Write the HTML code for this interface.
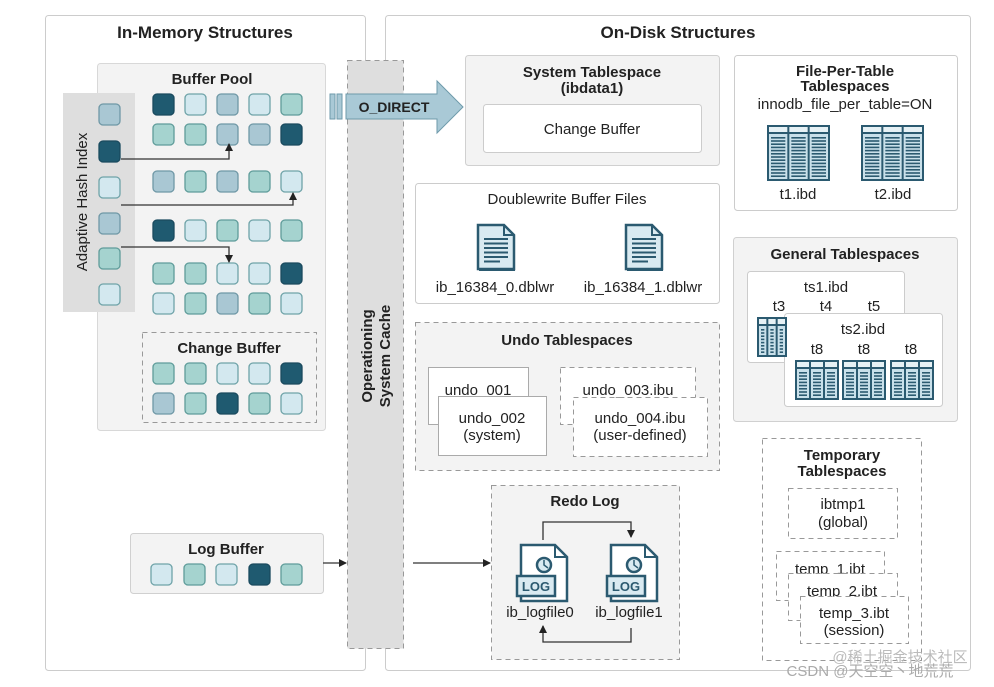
<!DOCTYPE html>
<html><head><meta charset="utf-8"><style>
html,body{margin:0;padding:0;background:#fff;}
svg{display:block;}
text{font-family:"Liberation Sans","Noto Sans CJK SC",sans-serif;fill:#222;}
.b{font-weight:bold;}
</style></head><body>
<svg id="s" width="994" height="687" viewBox="0 0 994 687" xmlns="http://www.w3.org/2000/svg">
<defs>
<marker id="ah" markerWidth="8" markerHeight="8" refX="7" refY="4" orient="auto" markerUnits="userSpaceOnUse"><path d="M0,0 L8,4 L0,8 Z" fill="#222"/></marker>
</defs>
<!-- panels -->
<rect x="45.5" y="15.5" width="320" height="655" rx="3" fill="#fff" stroke="#ccc"/>
<rect x="385.5" y="15.5" width="585" height="655" rx="3" fill="#fff" stroke="#ccc"/>
<text x="205" y="38" text-anchor="middle" font-size="17" class="b">In-Memory Structures</text>
<text x="678" y="38" text-anchor="middle" font-size="17" class="b">On-Disk Structures</text>

<!-- buffer pool -->
<rect x="97.5" y="63.5" width="228" height="367" rx="3" fill="#f3f3f3" stroke="#d8d8d8"/>
<text x="212" y="84" text-anchor="middle" font-size="15" class="b">Buffer Pool</text>
<rect x="63" y="93" width="72" height="219" fill="#dedede"/>
<text transform="translate(87,202) rotate(-90)" text-anchor="middle" font-size="15">Adaptive Hash Index</text>
<rect x="142.5" y="332.5" width="174" height="90" fill="none" stroke="#999" stroke-dasharray="5,4"/>
<text x="229" y="353" text-anchor="middle" font-size="15" class="b">Change Buffer</text>

<!-- log buffer -->
<rect x="130.5" y="533.5" width="193" height="60" rx="3" fill="#f3f3f3" stroke="#d0d0d0"/>
<text x="226" y="554" text-anchor="middle" font-size="15" class="b">Log Buffer</text>

<!-- OS cache -->
<rect x="347.5" y="60.5" width="56" height="588" fill="#dedede" stroke="#999" stroke-dasharray="5,4"/>
<text transform="translate(372,356) rotate(-90)" text-anchor="middle" font-size="15" class="b">Operationing</text>
<text transform="translate(390,356) rotate(-90)" text-anchor="middle" font-size="15" class="b">System Cache</text>

<!-- O_DIRECT arrow -->
<rect x="330" y="94" width="5" height="25" fill="#a9c9d6" stroke="#6e9aab"/>
<rect x="337" y="94" width="5" height="25" fill="#a9c9d6" stroke="#6e9aab"/>
<path d="M346,94 L437,94 L437,81 L463,107 L437,133 L437,119 L346,119 Z" fill="#a9c9d6" stroke="#6e9aab"/>
<text x="394" y="112" text-anchor="middle" font-size="14" class="b" fill="#222">O_DIRECT</text>

<!-- log arrows -->
<line x1="323" y1="563" x2="346" y2="563" stroke="#333" stroke-width="1.3" marker-end="url(#ah)"/>
<line x1="413" y1="563" x2="490" y2="563" stroke="#333" stroke-width="1.3" marker-end="url(#ah)"/>

<!-- system tablespace -->
<rect x="465.5" y="55.5" width="254" height="110" rx="3" fill="#f3f3f3" stroke="#d0d0d0"/>
<text x="592" y="77" text-anchor="middle" font-size="15" class="b">System Tablespace</text>
<text x="592" y="93" text-anchor="middle" font-size="15" class="b">(ibdata1)</text>
<rect x="483.5" y="104.5" width="218" height="48" rx="3" fill="#fff" stroke="#ccc"/>
<text x="592" y="134" text-anchor="middle" font-size="15">Change Buffer</text>

<!-- doublewrite -->
<rect x="415.5" y="183.5" width="304" height="120" rx="3" fill="#fff" stroke="#ccc"/>
<text x="567" y="204" text-anchor="middle" font-size="15">Doublewrite Buffer Files</text>
<text x="495" y="292" text-anchor="middle" font-size="15">ib_16384_0.dblwr</text>
<text x="643" y="292" text-anchor="middle" font-size="15">ib_16384_1.dblwr</text>

<!-- undo -->
<rect x="415.5" y="322.5" width="304" height="148" fill="#f3f3f3" stroke="#999" stroke-dasharray="5,4"/>
<text x="567" y="345" text-anchor="middle" font-size="15" class="b">Undo Tablespaces</text>
<rect x="428.5" y="367.5" width="100" height="57" fill="#fff" stroke="#aaa"/>
<text x="478" y="395" text-anchor="middle" font-size="15">undo_001</text>
<rect x="438.5" y="396.5" width="108" height="59" fill="#fff" stroke="#aaa"/>
<text x="492" y="423" text-anchor="middle" font-size="15">undo_002</text>
<text x="492" y="440" text-anchor="middle" font-size="15">(system)</text>
<rect x="560.5" y="367.5" width="135" height="57" fill="#fff" stroke="#999" stroke-dasharray="5,4"/>
<text x="628" y="395" text-anchor="middle" font-size="15">undo_003.ibu</text>
<rect x="573.5" y="397.5" width="134" height="59" fill="#fff" stroke="#999" stroke-dasharray="5,4"/>
<text x="640" y="423" text-anchor="middle" font-size="15">undo_004.ibu</text>
<text x="640" y="440" text-anchor="middle" font-size="15">(user-defined)</text>

<!-- redo -->
<rect x="491.5" y="485.5" width="188" height="174" fill="#f3f3f3" stroke="#999" stroke-dasharray="5,4"/>
<text x="585" y="506" text-anchor="middle" font-size="15" class="b">Redo Log</text>
<path d="M543,540 L543,522 L631,522 L631,537" fill="none" stroke="#333" stroke-width="1.3" marker-end="url(#ah)"/>
<path d="M631,628 L631,642 L543,642 L543,626" fill="none" stroke="#333" stroke-width="1.3" marker-end="url(#ah)"/>
<text x="540" y="617" text-anchor="middle" font-size="15">ib_logfile0</text>
<text x="629" y="617" text-anchor="middle" font-size="15">ib_logfile1</text>

<!-- file per table -->
<rect x="734.5" y="55.5" width="223" height="155" rx="3" fill="#fff" stroke="#ccc"/>
<text x="845" y="76" text-anchor="middle" font-size="15" class="b">File-Per-Table</text>
<text x="845" y="91" text-anchor="middle" font-size="15" class="b">Tablespaces</text>
<text x="845" y="109" text-anchor="middle" font-size="15">innodb_file_per_table=ON</text>
<text x="798" y="199" text-anchor="middle" font-size="15">t1.ibd</text>
<text x="893" y="199" text-anchor="middle" font-size="15">t2.ibd</text>

<!-- general -->
<rect x="733.5" y="237.5" width="224" height="184" rx="3" fill="#f3f3f3" stroke="#d0d0d0"/>
<text x="845" y="259" text-anchor="middle" font-size="15" class="b">General Tablespaces</text>
<rect x="747.5" y="271.5" width="157" height="91" rx="3" fill="#fff" stroke="#ccc"/>
<text x="826" y="292" text-anchor="middle" font-size="15">ts1.ibd</text>
<text x="779" y="311" text-anchor="middle" font-size="15">t3</text>
<text x="826" y="311" text-anchor="middle" font-size="15">t4</text>
<text x="874" y="311" text-anchor="middle" font-size="15">t5</text>
<g id="gt"></g>
<rect x="784.5" y="313.5" width="158" height="93" rx="3" fill="#fff" stroke="#ccc"/>
<text x="863" y="334" text-anchor="middle" font-size="15">ts2.ibd</text>
<text x="817" y="354" text-anchor="middle" font-size="15">t8</text>
<text x="864" y="354" text-anchor="middle" font-size="15">t8</text>
<text x="911" y="354" text-anchor="middle" font-size="15">t8</text>

<!-- temp -->
<rect x="762.5" y="438.5" width="159" height="222" fill="#fff" stroke="#999" stroke-dasharray="5,4"/>
<text x="842" y="460" text-anchor="middle" font-size="15" class="b">Temporary</text>
<text x="842" y="476" text-anchor="middle" font-size="15" class="b">Tablespaces</text>
<rect x="788.5" y="488.5" width="109" height="50" fill="#fff" stroke="#999" stroke-dasharray="5,4"/>
<text x="843" y="509" text-anchor="middle" font-size="15">ibtmp1</text>
<text x="843" y="527" text-anchor="middle" font-size="15">(global)</text>
<rect x="776.5" y="551.5" width="108" height="49" fill="#fff" stroke="#999" stroke-dasharray="5,4"/>
<text x="830" y="574" text-anchor="middle" font-size="15">temp_1.ibt</text>
<rect x="788.5" y="573.5" width="109" height="47" fill="#fff" stroke="#999" stroke-dasharray="5,4"/>
<text x="842" y="596" text-anchor="middle" font-size="15">temp_2.ibt</text>
<rect x="800.5" y="596.5" width="108" height="47" fill="#fff" stroke="#999" stroke-dasharray="5,4"/>
<text x="854" y="618" text-anchor="middle" font-size="15">temp_3.ibt</text>
<text x="854" y="635" text-anchor="middle" font-size="15">(session)</text>

<text x="900" y="662" text-anchor="middle" font-size="15" fill="#bbb" style="fill:#bbb">@稀土掘金技术社区</text>
<text x="870" y="676" text-anchor="middle" font-size="15" style="fill:#aaa">CSDN @天空空丶地荒荒</text>
<g id="dyn"></g>
</svg>
<script>
var C={D:"#1f5a70",L:"#d3e8ef",T:"#a5d3cf",G:"#a9c7d3",P:"#cfe9ec"};
var S={D:"#1a4a5e",L:"#6fa3a8",T:"#5f9c9a",G:"#6f98a6",P:"#6fa3a8"};
var out="";
function sq(x,y,k,w){w=w||21;out+='<rect x="'+x+'" y="'+y+'" width="'+w+'" height="'+w+'" rx="4" fill="'+C[k]+'" stroke="'+S[k]+'" stroke-width="1.3"/>';}
var xs=[153,185,217,249,281];
function row(y,s){for(var i=0;i<5;i++)sq(xs[i],y,s[i]);}
row(94,"DLGLT");row(124,"TTGGD");row(171,"GTGTL");row(220,"DLTLT");row(263,"TTLLD");row(293,"LTGTL");
row(363,"TTLLD");row(393,"GTDTL");
var lx=[151,184,216,249,281];for(var i=0;i<5;i++)sq(lx[i],564,"LTLDT"[i]);
var ay=[104,141,177,213,248,284];for(var i=0;i<6;i++)sq(99,ay[i],"GDLGTL"[i]);
function arr(d){out+='<path d="'+d+'" fill="none" stroke="#333" stroke-width="1.3" marker-end="url(#ah)"/>';}
arr("M121,159 L229,159 L229,144");arr("M121,205 L293,205 L293,193");arr("M121,247 L229,247 L229,262");
function tbl(x,y,w,h){
 out+='<rect x="'+x+'" y="'+y+'" width="'+w+'" height="'+h+'" fill="#2b5a70"/>';
 var cw=(w-4*2)/3;
 for(var c=0;c<3;c++){var cx=x+2+c*(cw+2);
  out+='<rect x="'+cx+'" y="'+(y+2)+'" width="'+cw+'" height="5" fill="#e6f1f5"/>';
  out+='<rect x="'+cx+'" y="'+(y+9)+'" width="'+cw+'" height="'+(h-11)+'" fill="#c9e0ea"/>';
  for(var ly=y+12;ly<y+h-3;ly+=3.2) out+='<rect x="'+(cx+2)+'" y="'+ly+'" width="'+(cw-4)+'" height="1.6" fill="#2b5a70"/>';
 }
}
tbl(767,125,63,56);tbl(861,125,63,56);
tbl(757,317,30,40);
tbl(795,360,44,40);tbl(842,360,44,40);tbl(890,360,44,40);
function doc(x,y){
 out+='<path d="M'+x+','+y+' L'+(x+26)+','+y+' L'+(x+36)+','+(y+10)+' L'+(x+36)+','+(y+44)+' L'+x+','+(y+44)+' Z" fill="#d9eaf1" stroke="#2b5a70" stroke-width="2.5"/>';
 out+='<path d="M'+(x+26)+','+y+' L'+(x+26)+','+(y+10)+' L'+(x+36)+','+(y+10)+'" fill="none" stroke="#2b5a70" stroke-width="2"/>';
 for(var i=0;i<6;i++)out+='<rect x="'+(x+6)+'" y="'+(y+13+i*4.5)+'" width="'+(i==5?16:24)+'" height="2" fill="#2b5a70"/>';
 out+='<rect x="'+(x+1)+'" y="'+(y+44)+'" width="36" height="2" fill="#2b5a70"/>';
}
doc(478,225);doc(626,225);
function logf(x,y){
 out+='<path d="M'+x+','+y+' L'+(x+34)+','+y+' L'+(x+46)+','+(y+12)+' L'+(x+46)+','+(y+56)+' L'+x+','+(y+56)+' Z" fill="#fff" stroke="#2b5a70" stroke-width="2.5"/>';
 out+='<path d="M'+(x+34)+','+y+' L'+(x+34)+','+(y+12)+' L'+(x+46)+','+(y+12)+'" fill="none" stroke="#2b5a70" stroke-width="2"/>';
 out+='<circle cx="'+(x+23)+'" cy="'+(y+20)+'" r="7" fill="#d9eaf1" stroke="#2b5a70" stroke-width="2.5"/>';
 out+='<path d="M'+(x+23)+','+(y+15)+' L'+(x+23)+','+(y+20)+' L'+(x+27)+','+(y+23)+'" fill="none" stroke="#2b5a70" stroke-width="1.5"/>';
 out+='<rect x="'+(x-4)+'" y="'+(y+31)+'" width="38" height="20" fill="#d9eaf1" stroke="#2b5a70" stroke-width="2.5"/>';
 out+='<text x="'+(x+15)+'" y="'+(y+46)+'" text-anchor="middle" font-size="13" class="b" style="fill:#2b5a70">LOG</text>';
}
logf(521,545);logf(611,545);
document.getElementById("dyn").outerHTML=out;
</script>
</body></html>
